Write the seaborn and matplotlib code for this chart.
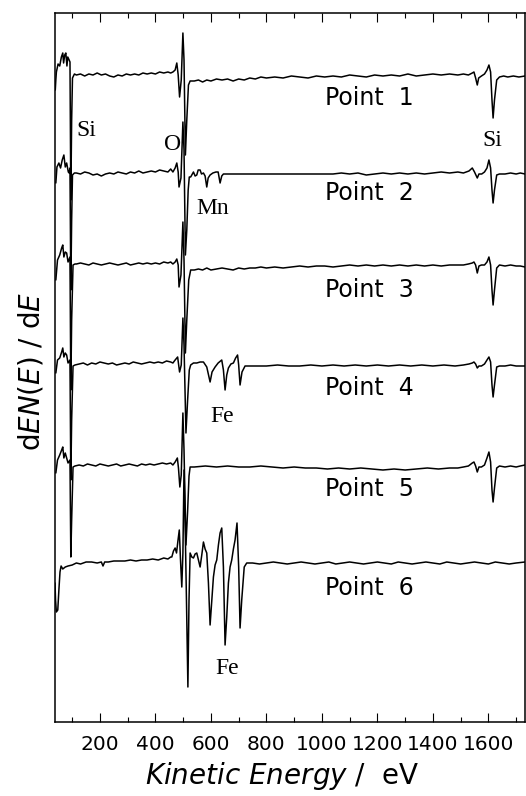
import numpy as np
import pandas as pd
import matplotlib
matplotlib.use("Agg")
import matplotlib.pyplot as plt
import seaborn as sns

# ---------------- data (relative intensity of each spectrum vs kinetic energy) ----------------
p1_ev = [39, 41, 43, 49, 55, 61, 66, 69, 73, 77, 81, 84, 89, 92, 95, 98, 101, 108,
         115, 130, 145, 160, 175, 190, 205, 220, 235, 250, 265, 280, 295, 310, 325, 340, 355, 370, 385, 400, 415, 430, 445, 455,
         463, 471, 477, 482, 487, 493, 499, 503, 508, 513, 519, 525,
         540, 555, 570, 585, 600, 620, 640, 660, 680, 700, 720, 740, 760, 780, 800,
         830, 860, 890, 920, 950, 980, 1010, 1040, 1070, 1100,
         1130, 1160, 1190, 1220, 1250, 1280, 1310, 1340, 1370, 1400,
         1430, 1460, 1490, 1510, 1528,
         1542, 1548, 1554, 1560, 1565, 1575, 1586, 1595, 1602, 1608, 1613, 1617, 1622, 1630, 1640, 1655, 1670, 1690, 1710, 1732]
p1_val = [-14, -4, 4, 12, 10, 19, 23, 13, 21, 23, 10, 19, 16, 14, -124, -44, -2, 2,
          1, 2, 0, 2, 1, 3, 1, 2, 0, -1, 1, 0, 2, 1, 2, 1, 3, 2, 3, 2, 4, 3, 4, 3,
          4, 6, 13, 1, -21, -4, 43, 16, -79, -44, -9, -5,
          -5, -4, -6, -4, -5, -3, -4, -3, -5, -3, -4, -2, -3, -1, -2,
          -1, -2, 0, -1, -2, 0, -1, 0, -1, 1,
          0, -1, 1, 0, 1, 0, 2, 0, 1, 2,
          1, 2, 1, 2, 1,
          3, 4, -2, -9, -2, 0, 2, 6, 11, 4, -24, -42, -24, -4, -1, 0, -1, 0, -1, 0]

p2_ev = [41, 45, 52, 58, 64, 70, 75, 80, 86, 89, 92, 95, 98, 101, 108,
         115, 130, 145, 160, 175, 190, 205, 220, 235, 250, 265, 280, 295, 310, 325, 340, 355, 370, 385, 400, 415, 430, 445, 455,
         463, 471, 477, 482, 485, 492, 499, 503, 508, 513, 518, 522,
         527, 537, 543, 549, 554, 561, 566, 573, 579, 585, 590, 597, 607, 618, 626, 633, 639, 645, 657,
         700, 800, 900, 1000, 1040,
         1070, 1100, 1130, 1160, 1190, 1220, 1250, 1280, 1310, 1340,
         1370, 1400, 1430, 1460, 1490, 1510, 1530,
         1542, 1550, 1560, 1566, 1576, 1586, 1595, 1602, 1608, 1613, 1617, 1622, 1630, 1640, 1660, 1680, 1700, 1715, 1732]
p2_val = [-9, 7, 11, 6, 14, 19, 7, 11, 2, 1, 6, -116, -46, -1, 1,
          1, 0, 2, 1, -1, 0, -2, 0, 1, 0, 2, 1, 0, 2, 1, 3, 1, 2, 3, 2, 4, 3, 2, 5,
          2, 6, 11, 2, -13, -4, 52, 24, -81, -56, -16, -3,
          -3, 2, -2, -1, 4, 4, 0, 1, -2, -13, -4, -1, 1, 2, 2, -9, -2, 0, 0,
          0, 0, 0, 0, 0,
          1, 0, 1, -1, 0, 1, 0, 1, 0, 1,
          0, 1, 2, 1, 2, 1, 3,
          6, 2, -4, 0, 0, 2, 6, 14, 6, -16, -29, -16, -1, 0, 0, 1, 0, 1, 0]

p3_ev = [41, 47, 55, 62, 66, 70, 75, 80, 85, 92, 95, 98, 103, 110,
         115, 130, 145, 160, 175, 190, 205, 220, 235, 250, 265, 280, 295, 310, 325, 340, 355, 370, 385, 400, 415, 430, 445, 455,
         463, 471, 477, 482, 485, 492, 499, 503, 508, 513, 520, 527,
         540, 555, 570, 585, 600, 620, 640, 660, 680, 700, 720, 740, 760, 780, 800,
         830, 860, 890, 920, 950, 980, 1010, 1040, 1070, 1100,
         1130, 1160, 1190, 1220, 1250, 1280, 1310, 1340, 1370, 1400,
         1430, 1460, 1490, 1510, 1528,
         1542, 1548, 1554, 1560, 1566, 1575, 1586, 1595, 1602, 1608, 1613, 1617, 1622, 1630, 1640, 1660, 1680, 1700, 1715, 1732]
p3_val = [-14, 6, 11, 18, 21, 9, 14, 13, 4, 9, -124, -54, 1, 2,
          2, 3, 2, 1, 3, 2, 1, 2, 3, 2, 1, 2, 3, 1, 2, 3, 2, 3, 2, 3, 2, 4, 3, 4,
          2, 4, 7, 1, -21, -9, 44, 6, -87, -54, -14, -4,
          -4, -3, -4, -2, -4, -3, -2, -3, -4, -2, -3, -2, -2, -1, -2,
          -1, -2, -1, 0, -1, 0, 0, -1, 0, 1,
          0, 1, 0, 1, 0, 1, 0, 1, 0, 1,
          0, 1, 1, 1, 2,
          3, 4, 1, -7, 0, 1, 1, 4, 9, 1, -24, -39, -24, -2, 1, 0, 1, 0, 0, -1]

p4_ev = [41, 47, 55, 62, 66, 70, 75, 80, 85, 92, 95, 98, 103, 110,
         125, 140, 155, 170, 185, 200, 215, 230, 245, 260, 275, 290, 305, 320, 335, 350, 365, 380, 395, 410, 425, 440, 455,
         463, 471, 480, 487, 493, 499, 503, 510, 516, 522, 527,
         537, 549, 561, 573, 585, 597, 604, 615, 626, 639, 645, 651, 657, 663, 672, 681, 689, 696, 700, 705, 712, 723, 740,
         760, 800, 840, 880, 920, 960, 1000, 1040, 1080, 1120, 1160, 1200, 1240, 1280, 1320, 1360, 1400, 1440, 1480, 1510, 1530,
         1542, 1548, 1554, 1560, 1566, 1575, 1586, 1595, 1602, 1608, 1613, 1617, 1622, 1630, 1640, 1660, 1680, 1700, 1715, 1732]
p4_val = [-8, 5, 7, 13, 17, 8, 12, 10, 2, 5, -115, -55, -1, 0,
          1, 2, 0, 2, 1, 3, 2, 1, 2, 0, 1, 2, 1, 3, 2, 1, 2, 3, 2, 3, 2, 4, 3,
          2, 5, 8, -7, 0, 47, 20, -68, -35, -5, 0,
          2, 2, 3, 3, -2, -17, -7, -2, 2, 5, -5, -25, -10, -3, 1, 2, 7, 10, 0, -20, -7, -1, -1,
          -1, -1, 0, -1, -1, 0, -1, 0, -1, 0, -1, 0, -1, 0, -1, 0, -1, 0, -1, 0, 1,
          2, 3, 1, -3, -1, -1, 1, 5, 8, 3, -20, -32, -20, -2, -1, -1, 0, -1, -1, -1]

p5_ev = [41, 47, 55, 62, 66, 70, 75, 80, 85, 92, 95, 98, 103, 110,
         125, 140, 155, 170, 185, 200, 215, 230, 245, 260, 275, 290, 305, 320, 335, 350, 365, 380, 395, 410, 425, 440, 455,
         463, 471, 479, 483, 488, 493, 499, 503, 510, 516, 521, 525,
         540, 580, 620, 660, 700, 740, 780, 820, 860, 900, 940, 980, 1020, 1060, 1100, 1140, 1180, 1220, 1260, 1300,
         1340, 1380, 1420, 1460, 1490, 1510, 1528,
         1542, 1548, 1554, 1560, 1566, 1575, 1586, 1595, 1602, 1608, 1613, 1617, 1622, 1630, 1640, 1660, 1680, 1700, 1715, 1732]
p5_val = [-7, 6, 11, 16, 19, 8, 13, 8, 3, 6, -91, -54, -1, 0,
          1, 0, 2, 1, 0, 2, 1, 0, 1, 2, 0, 1, 2, 1, 0, 2, 1, 2, 1, 2, 3, 2, 3,
          1, 4, 8, -2, -21, -9, 53, 16, -79, -45, -10, -1,
          -1, 0, -1, 0, -1, -1, 0, -1, -2, -1, -2, -2, -3, -2, -3, -2, -3, -4, -3, -4,
          -3, -2, -3, -2, -2, -1, 0,
          3, 4, 0, -6, -1, -1, 1, 8, 14, 4, -24, -36, -22, -2, 0, -1, 0, -1, 0, 1]

p6_ev = [38, 40, 43, 48, 52, 56, 60, 66, 75, 85, 100, 115, 130, 150, 170, 190, 205, 211, 217,
         230, 250, 270, 290, 310, 330, 350, 370, 390, 410, 430, 445, 455,
         459, 465, 471, 476, 481, 486, 490, 495, 499, 503,
         507, 512, 517, 521, 525, 531, 537, 543, 549, 555,
         561, 567, 573, 579, 585, 591, 597, 603, 609, 615,
         621, 627, 633, 639, 645, 651, 657, 663, 669, 675,
         681, 687, 694, 700, 705, 711, 720, 729,
         750, 775, 800, 825, 850, 875, 900, 925, 950, 975,
         1000, 1025, 1050, 1075, 1100, 1125, 1150, 1175, 1200, 1225,
         1250, 1275, 1300, 1325, 1350, 1375, 1400, 1425, 1450, 1475,
         1500, 1525, 1550, 1575, 1600, 1625, 1650, 1675, 1700, 1732]
p6_val = [-20, -37, -49, -47, -27, -9, -3, -6, -4, -3, -2, 0, -1, 1, 1, 0, 1, -3, 1,
          1, 2, 2, 2, 3, 2, 3, 3, 4, 3, 5, 4, 6,
          6, 12, 15, 10, 22, 33, 5, -24, 10, 93,
          40, -40, -124, -37, 10, 6, 5, 9, 10, 3,
          -4, 8, 21, 14, 10, -20, -62, -38, -14, -2,
          3, 18, 30, 35, -4, -82, -54, -20, -4, 3,
          14, 23, 40, -4, -65, -37, -4, 0,
          0, -1, 0, 1, 0, -1, 0, 1, 0, -1,
          0, 1, -1, 0, 1, 0, -1, 0, 1, 0,
          -1, 1, 0, -1, 0, 1, 0, -1, 1, 0,
          -1, 0, 1, 0, -1, 1, 0, -1, 0, 1]

# vertical offsets of the stacked spectra (same units as the intensities)
offsets = [646, 548, 456, 357, 256, 159]

point_labels = ["Point  1", "Point  2", "Point  3", "Point  4", "Point  5", "Point  6"]
point_label_ev = 1012
point_label_y = [624, 529, 432, 334, 233, 134]

element_labels = ["Si", "O", "Mn", "Si", "Fe", "Fe"]
element_ev = [150, 463, 608, 1615, 642, 660]
element_y = [592, 577, 514, 582, 305, 54]

major_ticks = [200, 400, 600, 800, 1000, 1200, 1400, 1600]
minor_ticks = [100, 300, 500, 700, 900, 1100, 1300, 1500, 1700]

# ---------------- plotting ----------------
sns.set_style("ticks")
plt.rcParams["font.family"] = ["DejaVu Sans"]
plt.rcParams["mathtext.fontset"] = "dejavusans"
plt.rcParams["text.color"] = "black"
plt.rcParams["axes.labelcolor"] = "black"
plt.rcParams["xtick.color"] = "black"
plt.rcParams["ytick.color"] = "black"
plt.rcParams["axes.edgecolor"] = "black"

fig = plt.figure(figsize=(5.26, 7.96), dpi=100)
ax = fig.add_axes([55 / 526, 1 - 722 / 796, 470 / 526, 709 / 796])

spectra = [(p1_ev, p1_val), (p2_ev, p2_val), (p3_ev, p3_val),
           (p4_ev, p4_val), (p5_ev, p5_val), (p6_ev, p6_val)]
for (ev, val), off in zip(spectra, offsets):
    df = pd.DataFrame({"ev": ev, "signal": np.asarray(val, dtype=float) + off})
    sns.lineplot(data=df, x="ev", y="signal", ax=ax, color="black", linewidth=1.1,
                 sort=False, estimator=None)

ax.set_xlim(38, 1732)
ax.set_ylim(0, 709)
ax.set_xticks(major_ticks)
ax.set_xticklabels([str(t) for t in major_ticks])
ax.set_xticks(minor_ticks, minor=True)
ax.set_yticks([])

for s in ax.spines.values():
    s.set_visible(True)
    s.set_linewidth(1.1)
    s.set_color("black")

ax.tick_params(axis="x", which="major", direction="in", top=True, bottom=True,
               length=6.5, width=0.8, labelsize=14.5, pad=9, colors="black",
               labelcolor="black")
ax.tick_params(axis="x", which="minor", direction="in", top=True, bottom=True,
               length=3.6, width=0.8, colors="black")
ax.tick_params(axis="y", left=False, right=False, labelleft=False)

ax.set_xlabel(r"$\mathit{Kinetic\ Energy}$ /  eV", fontsize=20, color="black")
ax.xaxis.set_label_coords(0.483, -0.054)
ax.set_ylabel(r"d$\mathit{EN(E)}$ / d$\mathit{E}$", fontsize=20, color="black")
ax.yaxis.set_label_coords(-0.02, 0.495)

for lab, yy in zip(point_labels, point_label_y):
    ax.text(point_label_ev, yy, lab, fontsize=17, ha="left", va="center",
            family="DejaVu Sans", color="black")

for lab, xx, yy in zip(element_labels, element_ev, element_y):
    ax.text(xx, yy, lab, fontsize=17, ha="center", va="center",
            family="Liberation Serif", color="black")

fig.savefig("out.png", dpi=100)
